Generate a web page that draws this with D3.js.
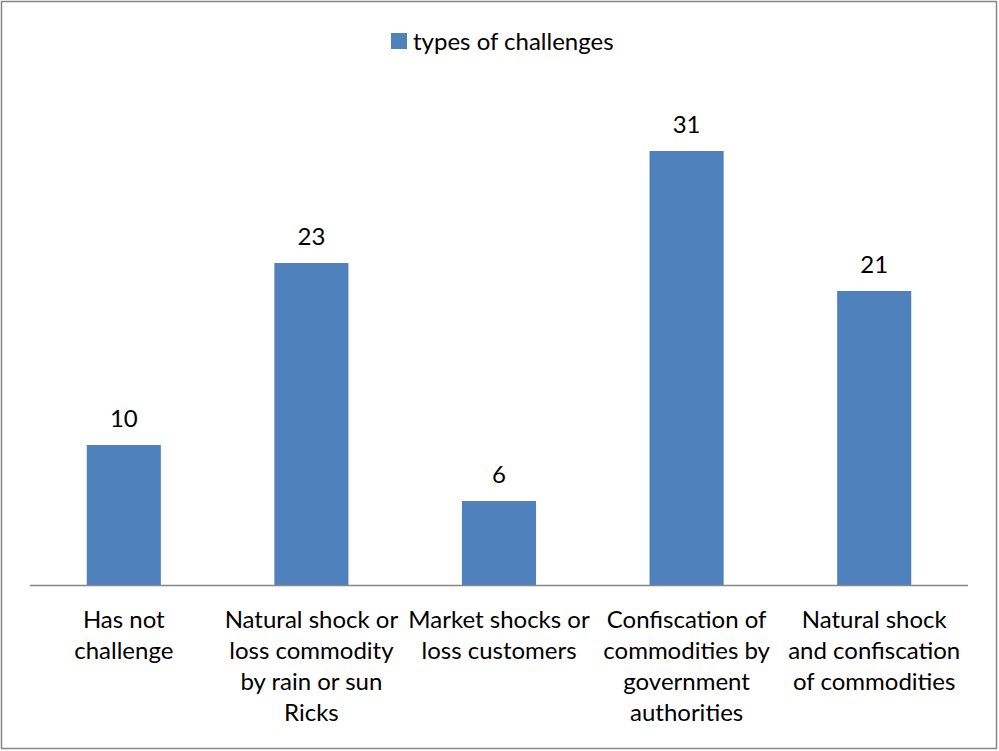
<!DOCTYPE html>
<html>
<head>
<meta charset="utf-8">
<script src="https://cdn.jsdelivr.net/npm/d3@7"></script>
<style>
  body { margin: 0; background: #fff; }
  svg text { font-family: Lato, "Open Sans", sans-serif; fill: #000; }
</style>
</head>
<body>
<div id="container"></div>
<script>
// chart data
const categories = ['Has not challenge', 'Natural shock or loss commodity by rain or sun Ricks',
    'Market shocks or loss customers', 'Confiscation of commodities by government authorities',
    'Natural shock and confiscation of commodities'];
const labelLines = [
    ['Has not', 'challenge'],
    ['Natural shock or', 'loss commodity', 'by rain or sun', 'Ricks'],
    ['Market shocks or', 'loss customers'],
    ['Confiscation of', 'commodities by', 'government', 'authorities'],
    ['Natural shock', 'and confiscation', 'of commodities']
];
const values = [10, 23, 6, 31, 21];
const seriesName = 'types of challenges';

const width = 999, height = 751;
const plot = { left: 30, right: 968, top: 33, bottom: 585 };
const barColor = '#4F81BD';
const fontSize = '24px';

const svg = d3.select('#container').append('svg')
    .attr('width', width)
    .attr('height', height);

// outer frame
svg.append('rect')
    .attr('x', 1.5).attr('y', 1.5)
    .attr('width', width - 4).attr('height', height - 4)
    .attr('fill', '#fff')
    .attr('stroke', '#868686')
    .attr('stroke-width', 1.5);

const x = d3.scaleBand()
    .domain(categories)
    .range([plot.left, plot.right])
    .paddingInner(0.605)
    .paddingOuter(0.3025);

// 14px per unit, 0 at the axis line
const y = d3.scaleLinear()
    .domain([0, 39.4])
    .range([plot.bottom, plot.bottom - 39.4 * 14]);

svg.append('g')
    .selectAll('rect')
    .data(values)
    .enter()
    .append('rect')
    .attr('x', (d, i) => x(categories[i]))
    .attr('y', d => y(d))
    .attr('width', x.bandwidth())
    .attr('height', d => y(0) - y(d))
    .attr('fill', barColor);

// value labels
svg.append('g')
    .selectAll('text')
    .data(values)
    .enter()
    .append('text')
    .attr('x', (d, i) => x(categories[i]) + x.bandwidth() / 2)
    .attr('y', d => y(d) - 18)
    .attr('text-anchor', 'middle')
    .style('font-size', fontSize)
    .text(d => d);

// x axis line
svg.append('line')
    .attr('x1', plot.left).attr('x2', plot.right)
    .attr('y1', y(0) + 0.5).attr('y2', y(0) + 0.5)
    .attr('stroke', '#868686')
    .attr('stroke-width', 1.5);

// category labels
const labels = svg.append('g')
    .selectAll('text')
    .data(categories)
    .enter()
    .append('text')
    .attr('text-anchor', 'middle')
    .style('font-size', fontSize)
    .attr('transform', d => `translate(${x(d) + x.bandwidth() / 2},${plot.bottom + 43})`);

labels.selectAll('tspan')
    .data((d, i) => labelLines[i])
    .enter()
    .append('tspan')
    .attr('x', 0)
    .attr('y', (d, i) => i * 31)
    .text(d => d);

// legend
const legend = svg.append('g').attr('transform', 'translate(391,33)');
legend.append('rect')
    .attr('width', 16).attr('height', 16)
    .attr('fill', barColor);
legend.append('text')
    .attr('x', 22).attr('y', 17)
    .style('font-size', fontSize)
    .text(seriesName);
</script>
</body>
</html>
